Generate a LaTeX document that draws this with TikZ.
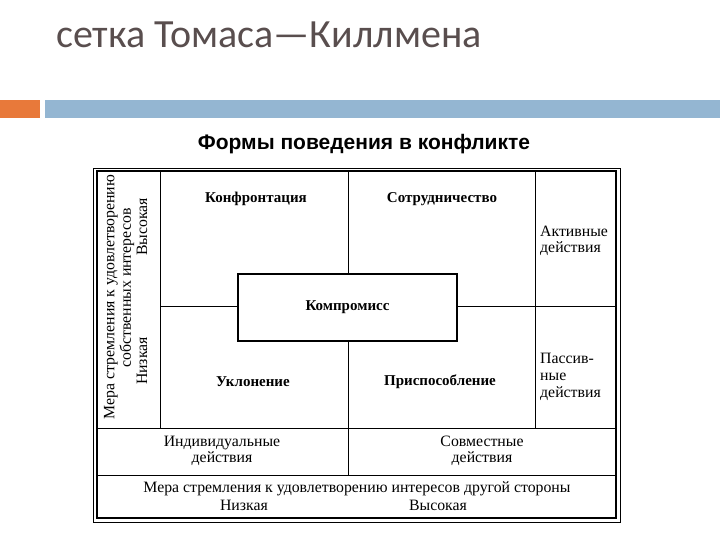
\documentclass[tikz,border=0pt]{standalone}
\usepackage{fontspec}
\setmainfont{Liberation Serif}
\newfontfamily\titlefont{Carlito}
\newfontfamily\headfont{Liberation Sans}
\definecolor{titlegray}{RGB}{89,78,78}
\definecolor{accentorange}{RGB}{232,121,58}
\definecolor{accentblue}{RGB}{148,182,210}

\tikzset{
  cell/.style={font=\fontsize{15.8}{15.5}\selectfont, inner sep=0pt},
  boldcell/.style={font=\fontsize{15}{16}\selectfont\bfseries, inner sep=0pt},
  gridline/.style={line width=0.9pt},
}

\begin{document}
\begin{tikzpicture}[x=1pt,y=-1pt]
  \useasboundingbox (0,0) rectangle (720,540);

  % Title
  \node[anchor=base west, inner sep=0pt, text=titlegray,
        font=\titlefont\fontsize{40}{42}\selectfont] (title) at (56,48) {сетка Томаса—Киллмена};

  % Accent bar
  \fill[accentorange] (0,100) rectangle (40,118);
  \fill[accentblue] (45,100) rectangle (720,118);

  % Caption
  \node[font=\headfont\bfseries\fontsize{21}{22}\selectfont, inner sep=0pt] (caption) at (364,144)
    {Формы поведения в конфликте};

  % Frame
  \draw[line width=0.6pt] (93,168) rectangle (620,522);
  \draw[line width=1.2pt] (97,171) rectangle (616,518);

  % Grid
  \draw[gridline] (160,171) -- (160,428);
  \draw[gridline] (348,171) -- (348,475);
  \draw[gridline] (535,171) -- (535,428);
  \draw[gridline] (160,306) -- (616,306);
  \draw[gridline] (97,428) -- (616,428);
  \draw[gridline] (97,475) -- (616,475);

  % Compromise box
  \node[draw, line width=1.2pt, fill=white, minimum width=219pt, minimum height=67pt,
        boldcell] (compromise) at (347.5,307.5) {Компромисс};

  % Styles of behaviour
  \node[boldcell] (confront) at (256,199) {Конфронтация};
  \node[boldcell] (cooperate) at (442,199) {Сотрудничество};
  \node[boldcell] (avoid) at (253,382) {Уклонение};
  \node[boldcell] (adapt) at (440,382) {Приспособление};

  % Right column
  \node[cell, anchor=west, align=left] (active) at (540,241) {Активные\\действия};
  \node[cell, anchor=west, align=left, font=\fontsize{15.8}{17}\selectfont] (passive) at (540,377)
    {Пассив-\\ные\\действия};

  % Lower rows
  \node[cell, align=center] (single) at (222,451) {Индивидуальные\\действия};
  \node[cell, align=center] (joint) at (482,451) {Совместные\\действия};
  \node[cell] (otheraxis) at (357,489) {Мера стремления к удовлетворению интересов другой стороны};
  \node[cell] (otherlow) at (244,505) {Низкая};
  \node[cell] (otherhigh) at (438,505) {Высокая};

  % Left column, rotated
  \node[cell, rotate=90] (ownaxis) at (111,297) {Мера стремления к удовлетворению};
  \node[cell, rotate=90] (ownaxisb) at (127,288) {собственных интересов};
  \node[cell, rotate=90] (ownlow) at (142,361) {Низкая};
  \node[cell, rotate=90] (ownhigh) at (142,227) {Высокая};

\end{tikzpicture}
\end{document}
